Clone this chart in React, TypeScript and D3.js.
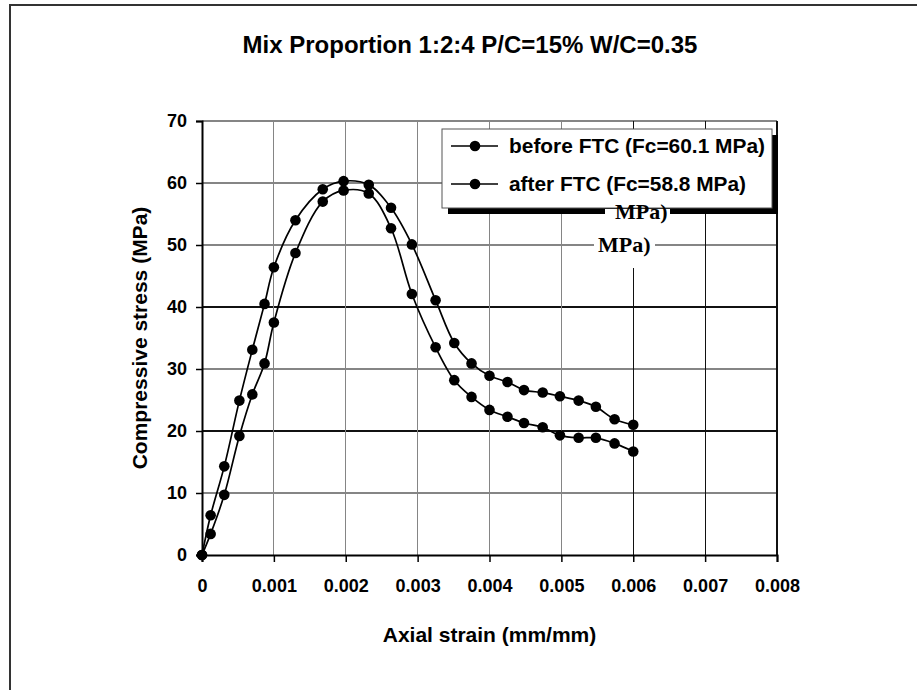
import React, { useRef, useEffect } from 'react';
import * as d3 from 'd3';

// strain values (mm/mm)
const strain = [0, 0.00012, 0.00031, 0.00052, 0.0007, 0.00087, 0.001, 0.0013, 0.00168, 0.00197, 0.00232,
    0.00263, 0.00292, 0.00325, 0.00351, 0.00375, 0.004, 0.00425, 0.00448, 0.00474, 0.00498, 0.00524,
    0.00548, 0.00574, 0.006];
const beforeFTC = [0, 6.4, 14.3, 24.9, 33.1, 40.5, 46.4, 54.0, 59.0, 60.3, 59.7, 56.0, 50.1, 41.1, 34.2,
    30.9, 28.9, 27.9, 26.6, 26.2, 25.6, 24.9, 23.9, 21.9, 21.0];
const afterFTC = [0, 3.4, 9.7, 19.2, 25.9, 30.9, 37.5, 48.7, 57.0, 58.8, 58.3, 52.7, 42.1, 33.5, 28.2,
    25.5, 23.4, 22.3, 21.3, 20.6, 19.3, 18.9, 18.9, 18.0, 16.7];

const seriesNames = ['before FTC (Fc=60.1 MPa)', 'after FTC (Fc=58.8 MPa)'];
const xTicks = [0, 0.001, 0.002, 0.003, 0.004, 0.005, 0.006, 0.007, 0.008];
const yTicks = [0, 10, 20, 30, 40, 50, 60, 70];
const titleText = 'Mix Proportion 1:2:4 P/C=15% W/C=0.35';
const xTitle = 'Axial strain (mm/mm)';
const yTitle = 'Compressive stress (MPa)';

const W = 917;
const H = 690;
const plot = { left: 202, right: 777, top: 121, bottom: 555 };
const font = '"Liberation Sans", Arial, sans-serif';
const serif = '"Liberation Serif", "Times New Roman", serif';

const App = () => {
    const svgRef = useRef(null);

    useEffect(() => {
        if (!svgRef.current) return;
        const svg = d3.select(svgRef.current);
        svg.selectAll('*').remove();

        const x = d3.scaleLinear().domain([0, 0.008]).range([plot.left, plot.right]);
        const y = d3.scaleLinear().domain([0, 70]).range([plot.bottom, plot.top]);

        // outer chart border
        svg.append('rect')
            .attr('x', 10).attr('y', 5)
            .attr('width', 1000).attr('height', 1000)
            .attr('fill', 'white')
            .attr('stroke', '#333').attr('stroke-width', 2);

        // gridlines (some come out darker in the original)
        const darkY = [20, 40];
        const darkX = [0.006, 0.007, 0.008];
        svg.append('g').selectAll('line')
            .data(yTicks.slice(1))
            .join('line')
            .attr('x1', plot.left).attr('x2', plot.right)
            .attr('y1', d => y(d)).attr('y2', d => y(d))
            .attr('stroke', d => darkY.includes(d) ? '#111' : '#858585')
            .attr('stroke-width', 1.2)
            .attr('shape-rendering', 'crispEdges');
        svg.append('g').selectAll('line')
            .data(xTicks.slice(1))
            .join('line')
            .attr('x1', d => x(d)).attr('x2', d => x(d))
            .attr('y1', plot.top).attr('y2', plot.bottom)
            .attr('stroke', d => darkX.includes(d) ? '#111' : '#858585')
            .attr('stroke-width', 1.2)
            .attr('shape-rendering', 'crispEdges');

        // axes
        const yAxis = d3.axisLeft(y).tickValues(yTicks).tickSize(6).tickPadding(9);
        const xAxis = d3.axisBottom(x).tickValues(xTicks).tickSize(7).tickPadding(17)
            .tickFormat(d => d === 0 ? '0' : d3.format('.3f')(d));

        const gy = svg.append('g').attr('transform', `translate(${plot.left},0)`).call(yAxis);
        const gx = svg.append('g').attr('transform', `translate(0,${plot.bottom})`).call(xAxis);
        [gy, gx].forEach(g => {
            g.select('.domain').attr('stroke', '#000').attr('stroke-width', 2);
            g.selectAll('.tick line').attr('stroke', '#000').attr('stroke-width', 1.5);
            g.selectAll('.tick text')
                .attr('fill', '#000')
                .style('font-family', font)
                .style('font-weight', 'bold')
                .style('font-size', '18px');
        });

        // series
        const line = d3.line()
            .x(d => x(d[0]))
            .y(d => y(d[1]))
            .curve(d3.curveCatmullRom.alpha(0.5));

        [beforeFTC, afterFTC].forEach(vals => {
            const pts = strain.map((s, i) => [s, vals[i]]);
            svg.append('path')
                .datum(pts)
                .attr('d', line)
                .attr('fill', 'none')
                .attr('stroke', '#000')
                .attr('stroke-width', 1.7);
            svg.append('g').selectAll('circle')
                .data(pts)
                .join('circle')
                .attr('cx', d => x(d[0]))
                .attr('cy', d => y(d[1]))
                .attr('r', 5.3)
                .attr('fill', '#000');
        });

        // legend
        const lg = svg.append('g');
        lg.append('rect').attr('x', 448).attr('y', 135).attr('width', 330).attr('height', 79).attr('fill', '#000');
        lg.append('rect').attr('x', 442).attr('y', 129).attr('width', 330).attr('height', 79)
            .attr('fill', 'white').attr('stroke', '#555').attr('stroke-width', 1);
        seriesNames.forEach((name, i) => {
            const ly = 146 + i * 38;
            lg.append('line').attr('x1', 451).attr('x2', 498).attr('y1', ly).attr('y2', ly)
                .attr('stroke', '#000').attr('stroke-width', 1.7);
            lg.append('circle').attr('cx', 475).attr('cy', ly).attr('r', 5.3).attr('fill', '#000');
            lg.append('text')
                .attr('x', 509).attr('y', ly + 7)
                .attr('textLength', i === 0 ? 256 : 237)
                .attr('lengthAdjust', 'spacingAndGlyphs')
                .style('font-family', font)
                .style('font-weight', 'bold')
                .style('font-size', '20px')
                .text(name);
        });

        // stray label fragments left over in the original
        svg.append('rect').attr('x', 605).attr('y', 209).attr('width', 65).attr('height', 13).attr('fill', 'white');
        svg.append('rect').attr('x', 594).attr('y', 215).attr('width', 61).attr('height', 53).attr('fill', 'white');
        svg.append('text').attr('x', 615).attr('y', 219)
            .style('font-family', serif)
            .style('font-weight', 'bold').style('font-size', '22px')
            .text('MPa)');
        svg.append('text').attr('x', 598).attr('y', 252)
            .style('font-family', serif)
            .style('font-weight', 'bold').style('font-size', '22px')
            .text('MPa)');

        // titles
        svg.append('text')
            .attr('x', 470).attr('y', 53)
            .attr('text-anchor', 'middle')
            .style('font-family', font).style('font-weight', 'bold').style('font-size', '24px')
            .text(titleText);
        svg.append('text')
            .attr('x', (plot.left + plot.right) / 2).attr('y', 642)
            .attr('text-anchor', 'middle')
            .style('font-family', font).style('font-weight', 'bold').style('font-size', '21px')
            .text(xTitle);
        svg.append('text')
            .attr('transform', `translate(147,${(plot.top + plot.bottom) / 2}) rotate(-90)`)
            .attr('text-anchor', 'middle')
            .style('font-family', font).style('font-weight', 'bold').style('font-size', '21px')
            .text(yTitle);
    }, []);

    return (
        <svg
            ref={svgRef}
            width={W}
            height={H}
            style={{ position: 'absolute', left: 0, top: 0, background: 'white' }}
        />
    );
};

export default App;
